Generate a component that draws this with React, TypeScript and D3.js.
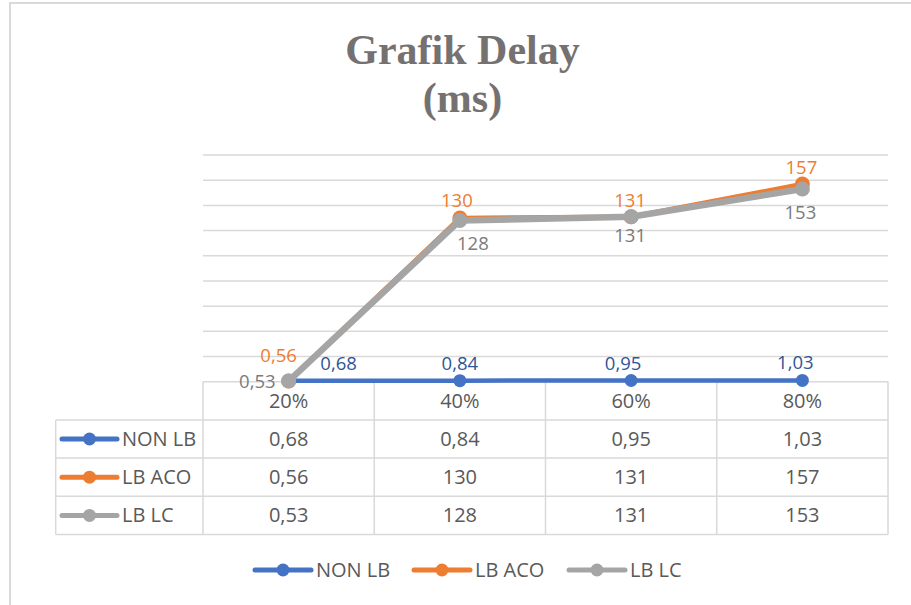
import React from 'react';
import * as d3 from 'd3';

// values
const categories = ['20%', '40%', '60%', '80%'];
const seriesNames = ['NON LB', 'LB ACO', 'LB LC'];
const nonLb = [0.68, 0.84, 0.95, 1.03];
const lbAco = [0.56, 130, 131, 157];
const lbLc = [0.53, 128, 131, 153];
const yMax = 180;

const fmt = (v: number) => String(v).replace('.', ',');

// styles / layout only
const colors = ['#4472C4', '#ED7D31', '#A5A5A5'];
const labelColors = ['#2F5597', '#ED7D31', '#7B7B7B'];
const lineWidths = [4.5, 4.5, 6.5];
const markerR = [6.5, 7.5, 7.5];
// label offsets (dx, dy, anchor) relative to each point
const labelOffsets: [number, number, string][][] = [
  [[50, -11, 'middle'], [0, -11, 'middle'], [-8, -11, 'middle'], [-7, -11, 'middle']],
  [[-10, -19, 'middle'], [-3, -11, 'middle'], [-1, -10, 'middle'], [-1, -10, 'middle']],
  [[-13, 7, 'end'], [13, 30, 'middle'], [-1, 25, 'middle'], [-2, 30, 'middle']],
];
const legendStarts = [255, 414, 569];

export default function App() {
  const width = 911;
  const height = 605;
  const plot = { left: 203, right: 888, top: 155, bottom: 381.7 };
  const rowH = 38.2;
  const tableLeft = 55.7;
  const font = '"Open Sans", "Noto Sans", sans-serif';
  const textColor = '#595959';
  const gridColor = '#D9D9D9';

  const series = [nonLb, lbAco, lbLc];

  const x = d3.scaleBand().domain(categories).range([plot.left, plot.right]);
  const cx = (c: string) => (x(c) as number) + x.bandwidth() / 2;
  const y = d3.scaleLinear().domain([0, yMax]).range([plot.bottom, plot.top]);

  const line = d3.line<number>()
    .x((d, i) => cx(categories[i]))
    .y(d => y(d));

  const tableBottom = plot.bottom + rowH * (series.length + 1);
  const bandEdges = categories.map(c => x(c) as number).concat([plot.right]);

  return (
    <div style={{ position: 'fixed', left: 0, top: 0 }}>
      <svg width={width} height={height} style={{ display: 'block', background: '#fff' }}>
        <rect x={10} y={3} width={width + 20} height={height + 20} fill="#fff" stroke={gridColor} strokeWidth={2} />

        <text x={462.5} y={64} textAnchor="middle" fontFamily='"Liberation Serif", "Times New Roman", serif'
              fontWeight="bold" fontSize={42} fill="#757171">Grafik Delay</text>
        <text x={462.5} y={112} textAnchor="middle" fontFamily='"Liberation Serif", "Times New Roman", serif'
              fontWeight="bold" fontSize={42} fill="#757171">(ms)</text>

        {/* gridlines */}
        {y.ticks(9).filter(t => t > 0).map(t => (
          <line key={t} x1={plot.left} x2={plot.right} y1={y(t)} y2={y(t)} stroke={gridColor} strokeWidth={1.5} />
        ))}

        {/* data table */}
        <g stroke={gridColor} strokeWidth={1.5}>
          <line x1={plot.left} x2={plot.right} y1={plot.bottom} y2={plot.bottom} />
          {d3.range(1, series.length + 2).map(r => (
            <line key={'h' + r} x1={tableLeft} x2={plot.right} y1={plot.bottom + r * rowH} y2={plot.bottom + r * rowH} />
          ))}
          <line x1={tableLeft} x2={tableLeft} y1={plot.bottom + rowH} y2={tableBottom} />
          {bandEdges.map((e, i) => (
            <line key={'v' + i} x1={e} x2={e} y1={plot.bottom} y2={tableBottom} />
          ))}
        </g>
        <g fontFamily={font} fontSize={20} fill={textColor} textAnchor="middle">
          {categories.map(c => (
            <text key={c} x={cx(c)} y={plot.bottom + rowH / 2 + 7}>{c}</text>
          ))}
          {series.map((s, si) => s.map((v, i) => (
            <text key={si + '-' + i} x={cx(categories[i])} y={plot.bottom + rowH * (si + 1.5) + 7}>{fmt(v)}</text>
          )))}
        </g>
        {seriesNames.map((name, si) => {
          const cy = plot.bottom + rowH * (si + 1.5);
          return (
            <g key={name}>
              <line x1={62} x2={117} y1={cy} y2={cy} stroke={colors[si]} strokeWidth={5} strokeLinecap="round" />
              <circle cx={89.5} cy={cy} r={6.5} fill={colors[si]} />
              <text x={122} y={cy + 7} fontFamily={font} fontSize={20} fill={textColor}>{name}</text>
            </g>
          );
        })}

        {/* series lines */}
        {series.map((s, si) => (
          <g key={'s' + si}>
            <path d={line(s) as string} fill="none" stroke={colors[si]} strokeWidth={lineWidths[si]} strokeLinejoin="round" />
            {s.map((v, i) => (
              <circle key={i} cx={cx(categories[i])} cy={y(v)} r={markerR[si]} fill={colors[si]} />
            ))}
          </g>
        ))}

        {/* data labels */}
        {series.map((s, si) => s.map((v, i) => {
          const [dx, dy, anchor] = labelOffsets[si][i];
          return (
            <text key={'l' + si + i} x={cx(categories[i]) + dx} y={y(v) + dy} textAnchor={anchor}
                  fontFamily={font} fontSize={18.5} fill={labelColors[si]}>{fmt(v)}</text>
          );
        }))}

        {/* legend */}
        {seriesNames.map((name, si) => {
          const lx = legendStarts[si];
          const ly = 570;
          return (
            <g key={'lg' + name}>
              <line x1={lx} x2={lx + 56} y1={ly} y2={ly} stroke={colors[si]} strokeWidth={5} strokeLinecap="round" />
              <circle cx={lx + 28} cy={ly} r={6.5} fill={colors[si]} />
              <text x={lx + 61} y={ly + 7} fontFamily={font} fontSize={20} fill={textColor}>{name}</text>
            </g>
          );
        })}
      </svg>
    </div>
  );
}
